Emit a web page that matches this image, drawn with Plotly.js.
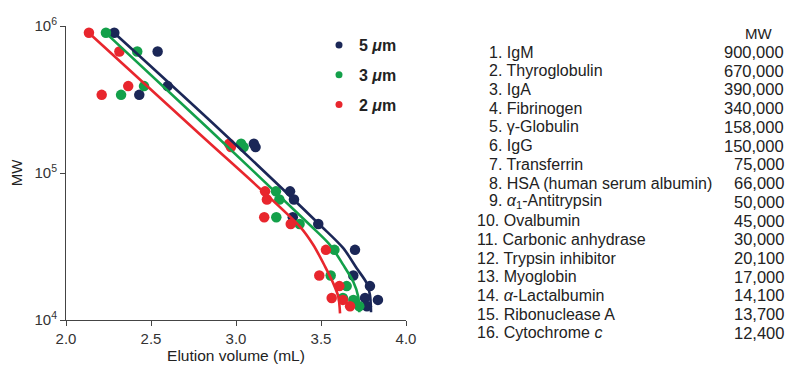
<!DOCTYPE html>
<html>
<head>
<meta charset="utf-8">
<script src="https://cdn.plot.ly/plotly-3.0.1.min.js"></script>
<style>html,body{margin:0;padding:0;background:#fff;}#chart{width:792px;height:367px;}</style>
</head>
<body>
<div id="chart"></div>
<script>
// Molecular weights of the standard proteins (also listed in the table)
const proteinNames = ['IgM','Thyroglobulin','IgA','Fibrinogen','γ-Globulin','IgG','Transferrin',
  'HSA (human serum albumin)','<i>α</i><sub>1</sub>-Antitrypsin','Ovalbumin','Carbonic anhydrase',
  'Trypsin inhibitor','Myoglobin','<i>α</i>-Lactalbumin','Ribonuclease A','Cytochrome <i>c</i>'];
const molecularWeight = [900000,670000,390000,340000,158000,150000,75000,66000,50000,45000,30000,20100,17000,14100,13700,12400];

// Elution volumes (mL)
const volume5um = [2.284,2.539,2.598,2.431,3.105,3.115,3.318,3.341,3.334,3.484,3.700,3.690,3.788,3.759,3.835,3.770];
const volume3um = [2.235,2.419,2.459,2.324,3.030,3.045,3.235,3.255,3.237,3.374,3.579,3.557,3.651,3.629,3.690,3.725];
const volume2um = [2.135,2.314,2.366,2.210,2.960,2.970,3.171,3.182,3.166,3.322,3.529,3.490,3.608,3.563,3.629,3.671];

// Calibration curves
const fit5Vol = [2.284,2.90,3.494,3.631,3.710,3.769,3.788,3.794,3.794];
const fit5MW  = [895000,199000,44300,30800,22500,17800,14800,11700,11300];
const fit3Vol = [2.235,2.84,3.435,3.553,3.631,3.690,3.719,3.725,3.725];
const fit3MW  = [895000,199000,44300,32400,23700,18200,14400,11700,11300];
const fit2Vol = [2.135,2.76,3.376,3.455,3.524,3.572,3.602,3.612];
const fit2MW  = [895000,196000,43200,32400,23100,17800,14400,11100];

const seriesNames = ['5 <i>μ</i>m','3 <i>μ</i>m','2 <i>μ</i>m'];
const xTickVals = [2.0,2.5,3.0,3.5,4.0];
const yTickVals = [1e4,1e5,1e6];
const yTickText = ['10<sup>4</sup>','10<sup>5</sup>','10<sup>6</sup>'];

const NAVY = '#1b2757', GREEN = '#13a04a', RED = '#e8262d';
const W = 792, H = 367, ML = 66, MR = 386, MT = 26, MB = 47;
const pw = W - ML - MR, ph = H - MT - MB;
const px2paperX = p => (p - ML) / pw;
const px2paperY = p => 1 - (p - MT) / ph;

const pointTrace = (xs, color) => ({
  x: xs, y: molecularWeight, type: 'scatter', mode: 'markers', showlegend: false,
  marker: {color: color, size: 10.5, line: {width: 0}}, hoverinfo: 'skip'
});
const lineTrace = (xs, ys, color) => ({
  x: xs, y: ys, type: 'scatter', mode: 'lines', showlegend: false,
  line: {color: color, width: 2.6, shape: 'spline', smoothing: 0.8}, hoverinfo: 'skip'
});
const legendTrace = (name, color, g) => ({
  x: [null], y: [null], type: 'scatter', mode: 'markers', name: name, legendgroup: g,
  marker: {color: color, size: 7}
});

const data = [
  pointTrace(volume5um, NAVY), pointTrace(volume3um, GREEN), pointTrace(volume2um, RED),
  lineTrace(fit5Vol, fit5MW, NAVY), lineTrace(fit3Vol, fit3MW, GREEN), lineTrace(fit2Vol, fit2MW, RED),
  legendTrace(seriesNames[0], NAVY, 'a'), legendTrace(seriesNames[1], GREEN, 'b'), legendTrace(seriesNames[2], RED, 'c')
];

const FONT = 'Liberation Sans, Arial, Helvetica, sans-serif';
const annotations = [];
annotations.push({xref:'paper', yref:'paper', x: px2paperX(758), y: px2paperY(33), text: 'MW',
  showarrow:false, xanchor:'center', yanchor:'middle', font:{family:FONT, size:15, color:'#222'}});
const rowTop = 52, rowStep = 18.73;
proteinNames.forEach((n, i) => {
  const py = rowTop + i * rowStep;
  annotations.push({xref:'paper', yref:'paper', x: px2paperX(i < 9 ? 487 : 475), y: px2paperY(py),
    text: (i + 1) + '. ' + n, showarrow:false, xanchor:'left', yanchor:'middle',
    font:{family:FONT, size:16, color:'#222'}});
  annotations.push({xref:'paper', yref:'paper', x: px2paperX(786), y: px2paperY(py),
    text: molecularWeight[i].toLocaleString('en-US'), showarrow:false, xanchor:'right', yanchor:'middle',
    font:{family:FONT, size:16.5, color:'#222'}});
});

const layout = {
  width: W, height: H,
  margin: {l: ML, r: MR, t: MT, b: MB, pad: 0},
  paper_bgcolor: '#fff', plot_bgcolor: '#fff',
  font: {family: FONT, color: '#333'},
  xaxis: {
    range: [2, 4], tickvals: xTickVals, ticktext: xTickVals.map(v => v.toFixed(1)),
    showgrid: false, zeroline: false, showline: true, linecolor: '#444', linewidth: 1,
    ticks: 'outside', ticklen: 5, tickcolor: '#444', tickfont: {size: 15, color: '#333'},
    title: {text: 'Elution volume (mL)', font: {size: 15.5, color: '#222'}, standoff: 2},
    automargin: false
  },
  yaxis: {
    type: 'log', range: [4, 6], tickvals: yTickVals, ticktext: yTickText,
    showgrid: false, zeroline: false, showline: true, linecolor: '#444', linewidth: 1,
    ticks: 'outside', ticklen: 5, tickcolor: '#444', tickfont: {size: 15, color: '#333'},
    title: {text: 'MW', font: {size: 15, color: '#222'}, standoff: 8},
    automargin: false
  },
  legend: {
    x: px2paperX(319), y: px2paperY(28), xanchor: 'left', yanchor: 'top',
    bgcolor: 'rgba(0,0,0,0)', borderwidth: 0, tracegroupgap: 6,
    font: {family: FONT, size: 16, color: '#222', weight: 'bold'}, itemwidth: 30
  },
  annotations: annotations,
  showlegend: true
};

Plotly.newPlot('chart', data, layout, {displayModeBar: false, staticPlot: true});
</script>
</body>
</html>
